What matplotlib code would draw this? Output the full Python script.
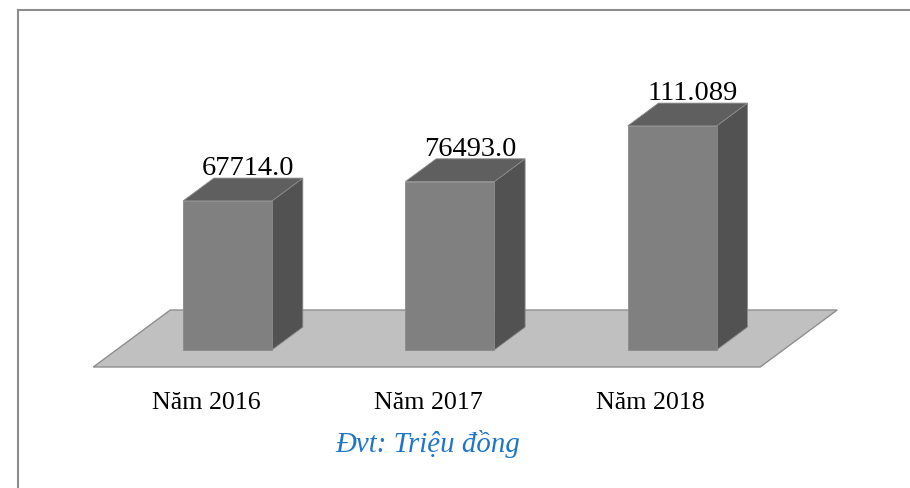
import matplotlib
matplotlib.use("Agg")
import matplotlib.pyplot as plt
from matplotlib.lines import Line2D

# ---- data ----
categories = ["Năm 2016", "Năm 2017", "Năm 2018"]
values = [67714, 76493, 101800]          # bar heights as drawn
value_labels = ["67714.0", "76493.0", "111.089"]
unit_label = "Đvt: Triệu đồng"

# ---- figure / projection setup ----
W, H, DPI = 910, 488, 100
fig = plt.figure(figsize=(W / DPI, H / DPI), dpi=DPI)
ax = fig.add_axes([0, 0, 1, 1])
ax.axis("off")

floor_x0_px = 93.3      # pixel x of floor front-left corner
slot_px = 222.3         # pixels per category slot
floor_y_px = 367.0      # pixel row (from top) of floor front edge
units_per_px = 454.5    # value units per pixel vertically
depth_dx = 77.0 / slot_px          # depth offset in slot units
depth_dy = 57.0 * units_per_px     # depth offset in value units

ax.set_xlim(-floor_x0_px / slot_px, (W - floor_x0_px) / slot_px)
ax.set_ylim(-(H - floor_y_px) * units_per_px, floor_y_px * units_per_px)

def P(x, y, d):
    return (x + d * depth_dx, y + d * depth_dy)

n = len(categories)

# floor
floor = [P(0, 0, 0), P(n, 0, 0), P(n, 0, 1), P(0, 0, 1)]
ax.fill([p[0] for p in floor], [p[1] for p in floor],
        facecolor="#c0c0c0", edgecolor="#8f8f8f", linewidth=1.0, zorder=1)

front_c, top_c, side_c, edge_c = "#808080", "#5f5f5f", "#525252", "#8a8a8a"
d0, d1 = 0.3, 0.7
bw = 0.4
serif = ["Liberation Serif", "DejaVu Serif"]

for i, (v, lab) in enumerate(zip(values, value_labels)):
    x0, x1 = i + (1 - bw) / 2, i + (1 + bw) / 2
    # side
    side = [P(x1, 0, d0), P(x1, 0, d1), P(x1, v, d1), P(x1, v, d0)]
    ax.fill([p[0] for p in side], [p[1] for p in side],
            facecolor=side_c, edgecolor=edge_c, linewidth=0.6, zorder=2)
    # top
    top = [P(x0, v, d0), P(x1, v, d0), P(x1, v, d1), P(x0, v, d1)]
    ax.fill([p[0] for p in top], [p[1] for p in top],
            facecolor=top_c, edgecolor=edge_c, linewidth=0.6, zorder=2)
    # front
    ax.bar(i + 0.5 + d0 * depth_dx, v, width=bw, bottom=d0 * depth_dy,
           color=front_c, edgecolor=edge_c, linewidth=0.6, zorder=3)
    # value label
    ly = v + d1 * depth_dy
    lx = i + 0.5 + 0.5 * depth_dx
    ax.annotate(lab, xy=(lx, ly), xytext=(3.5, 2), textcoords="offset points",
                ha="center", va="baseline", fontsize=20.5, family=serif,
                color="black", zorder=5)

# category labels along floor front edge
for i, c in enumerate(categories):
    ax.annotate(c, xy=(i + 0.5, 0), xytext=(1, -30.5), textcoords="offset points",
                ha="center", va="baseline", fontsize=18.7, family=serif,
                color="black")

# unit label
fig.text(427.5 / W, (H - 452) / H, unit_label, ha="center", va="baseline",
         fontsize=20.8, family=serif, style="italic", color="#1f76c8")

# outer frame (left and top edges visible)
lx_f = 18.3 / W
ty_f = (H - 10) / H
fig.add_artist(Line2D([lx_f, lx_f], [0, ty_f], transform=fig.transFigure,
                      color="#8c8c8c", linewidth=1.5))
fig.add_artist(Line2D([lx_f, 1], [ty_f, ty_f], transform=fig.transFigure,
                      color="#8c8c8c", linewidth=1.5))

fig.savefig("out.png", dpi=DPI, facecolor="white")
